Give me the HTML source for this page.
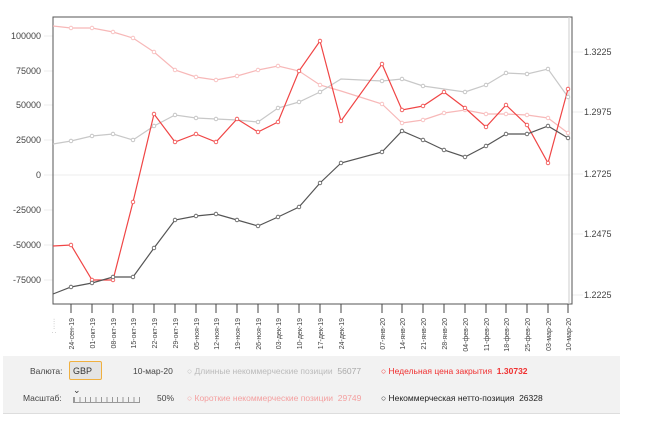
<!DOCTYPE html>
<html><head><meta charset="utf-8"><style>
body{margin:0;background:#fff;width:650px;height:427px;overflow:hidden;font-family:"Liberation Sans",sans-serif;}
.p{position:absolute;font-size:8.5px;white-space:nowrap;line-height:10px}
</style></head><body>
<svg width="650" height="427" style="position:absolute;left:0;top:0" font-family="Liberation Sans, sans-serif">
<g stroke="#eee" stroke-width="1">
<line x1="44" y1="36" x2="53" y2="36"/><line x1="44" y1="71" x2="53" y2="71"/><line x1="44" y1="105" x2="53" y2="105"/><line x1="44" y1="140" x2="53" y2="140"/><line x1="44" y1="210" x2="53" y2="210"/><line x1="44" y1="245" x2="53" y2="245"/><line x1="44" y1="280" x2="53" y2="280"/>
<line x1="44" y1="175" x2="570" y2="175"/>
<line x1="572" y1="52" x2="583" y2="52"/><line x1="572" y1="112" x2="583" y2="112"/><line x1="572" y1="174" x2="583" y2="174"/><line x1="572" y1="234" x2="583" y2="234"/><line x1="572" y1="295" x2="583" y2="295"/>
</g>
<g font-size="9" fill="#444" text-anchor="end">
<text x="41" y="39">100000</text><text x="41" y="74">75000</text><text x="41" y="108">50000</text><text x="41" y="143">25000</text><text x="41" y="178">0</text><text x="41" y="213">-25000</text><text x="41" y="248">-50000</text><text x="41" y="283">-75000</text>
</g>
<g font-size="9" fill="#444">
<text x="584" y="55">1.3225</text><text x="584" y="115">1.2975</text><text x="584" y="177">1.2725</text><text x="584" y="237">1.2475</text><text x="584" y="298">1.2225</text>
</g>
<path d="M53 17H572V304H53Z" fill="none" stroke="#555" stroke-width="1"/>
<line x1="569" y1="17" x2="569" y2="304" stroke="#ccc"/>
<g stroke="#444" stroke-width="1">
<line x1="71" y1="304" x2="71" y2="313"/><line x1="92" y1="304" x2="92" y2="313"/><line x1="113" y1="304" x2="113" y2="313"/><line x1="133" y1="304" x2="133" y2="313"/><line x1="154" y1="304" x2="154" y2="313"/><line x1="175" y1="304" x2="175" y2="313"/><line x1="196" y1="304" x2="196" y2="313"/><line x1="216" y1="304" x2="216" y2="313"/><line x1="237" y1="304" x2="237" y2="313"/><line x1="258" y1="304" x2="258" y2="313"/><line x1="278" y1="304" x2="278" y2="313"/><line x1="299" y1="304" x2="299" y2="313"/><line x1="320" y1="304" x2="320" y2="313"/><line x1="341" y1="304" x2="341" y2="313"/><line x1="382" y1="304" x2="382" y2="313"/><line x1="402" y1="304" x2="402" y2="313"/><line x1="423" y1="304" x2="423" y2="313"/><line x1="444" y1="304" x2="444" y2="313"/><line x1="465" y1="304" x2="465" y2="313"/><line x1="486" y1="304" x2="486" y2="313"/><line x1="506" y1="304" x2="506" y2="313"/><line x1="527" y1="304" x2="527" y2="313"/><line x1="548" y1="304" x2="548" y2="313"/><line x1="568" y1="304" x2="568" y2="313"/>
</g>
<g font-size="7" fill="#444" text-anchor="end">
<text transform="translate(56,318) rotate(-90)" fill="#aaa">: ·····</text>
<text transform="translate(74,318) rotate(-90)">24-сен-19</text>
<text transform="translate(95,318) rotate(-90)">01-окт-19</text>
<text transform="translate(116,318) rotate(-90)">08-окт-19</text>
<text transform="translate(136,318) rotate(-90)">15-окт-19</text>
<text transform="translate(157,318) rotate(-90)">22-окт-19</text>
<text transform="translate(178,318) rotate(-90)">29-окт-19</text>
<text transform="translate(199,318) rotate(-90)">05-ноя-19</text>
<text transform="translate(219,318) rotate(-90)">12-ноя-19</text>
<text transform="translate(240,318) rotate(-90)">19-ноя-19</text>
<text transform="translate(261,318) rotate(-90)">26-ноя-19</text>
<text transform="translate(281,318) rotate(-90)">03-дек-19</text>
<text transform="translate(302,318) rotate(-90)">10-дек-19</text>
<text transform="translate(323,318) rotate(-90)">17-дек-19</text>
<text transform="translate(344,318) rotate(-90)">24-дек-19</text>
<text transform="translate(385,318) rotate(-90)">07-янв-20</text>
<text transform="translate(405,318) rotate(-90)">14-янв-20</text>
<text transform="translate(426,318) rotate(-90)">21-янв-20</text>
<text transform="translate(447,318) rotate(-90)">28-янв-20</text>
<text transform="translate(468,318) rotate(-90)">04-фев-20</text>
<text transform="translate(489,318) rotate(-90)">11-фев-20</text>
<text transform="translate(509,318) rotate(-90)">18-фев-20</text>
<text transform="translate(530,318) rotate(-90)">25-фев-20</text>
<text transform="translate(551,318) rotate(-90)">03-мар-20</text>
<text transform="translate(571,318) rotate(-90)">10-мар-20</text>
</g>
<g fill="#fff" stroke-width="1.2">
<polyline fill="none" stroke="#f7b8b8" points="53,26 71,28 92,28 113,32 133,38 154,52 175,70 196,77 216,80 237,76 258,70 278,66 299,71 320,85 341,91 382,104 402,123 423,120 444,113 465,110 486,114 506,114 527,115 548,118 568,133"/>
<polyline fill="none" stroke="#c8c8c8" points="53,144 71,141 92,136 113,134 133,140 154,126 175,115 196,118 216,119 237,120 258,122 278,108 299,102 320,92 341,79 382,81 402,79 423,86 444,89 465,92 486,85 506,73 527,74 548,69 568,97"/>
<polyline fill="none" stroke="#f04545" points="53,246 71,245 92,280 113,280 133,202 154,114 175,142 196,134 216,142 237,119 258,132 278,122 299,71 320,41 341,121 382,64 402,110 423,106 444,92 465,108 486,127 506,105 527,125 548,163 568,89"/>
<polyline fill="none" stroke="#555" points="53,294 71,287 92,283 113,277 133,277 154,248 175,220 196,216 216,214 237,220 258,226 278,217 299,207 320,183 341,163 382,152 402,131 423,140 444,150 465,157 486,146 506,134 527,134 548,126 568,138"/>
</g>
<g fill="#fff" stroke-width="0.8">
<g stroke="#f7b8b8"><circle cx="71" cy="28" r="1.8"/><circle cx="92" cy="28" r="1.8"/><circle cx="113" cy="32" r="1.8"/><circle cx="133" cy="38" r="1.8"/><circle cx="154" cy="52" r="1.8"/><circle cx="175" cy="70" r="1.8"/><circle cx="196" cy="77" r="1.8"/><circle cx="216" cy="80" r="1.8"/><circle cx="237" cy="76" r="1.8"/><circle cx="258" cy="70" r="1.8"/><circle cx="278" cy="66" r="1.8"/><circle cx="299" cy="71" r="1.8"/><circle cx="320" cy="85" r="1.8"/><circle cx="382" cy="104" r="1.8"/><circle cx="402" cy="123" r="1.8"/><circle cx="423" cy="120" r="1.8"/><circle cx="444" cy="113" r="1.8"/><circle cx="465" cy="110" r="1.8"/><circle cx="486" cy="114" r="1.8"/><circle cx="506" cy="114" r="1.8"/><circle cx="527" cy="115" r="1.8"/><circle cx="548" cy="118" r="1.8"/><circle cx="568" cy="133" r="1.8"/></g>
<g stroke="#bbb"><circle cx="71" cy="141" r="1.8"/><circle cx="92" cy="136" r="1.8"/><circle cx="113" cy="134" r="1.8"/><circle cx="133" cy="140" r="1.8"/><circle cx="154" cy="126" r="1.8"/><circle cx="175" cy="115" r="1.8"/><circle cx="196" cy="118" r="1.8"/><circle cx="216" cy="119" r="1.8"/><circle cx="258" cy="122" r="1.8"/><circle cx="278" cy="108" r="1.8"/><circle cx="299" cy="102" r="1.8"/><circle cx="320" cy="92" r="1.8"/><circle cx="382" cy="81" r="1.8"/><circle cx="402" cy="79" r="1.8"/><circle cx="423" cy="86" r="1.8"/><circle cx="465" cy="92" r="1.8"/><circle cx="486" cy="85" r="1.8"/><circle cx="506" cy="73" r="1.8"/><circle cx="527" cy="74" r="1.8"/><circle cx="548" cy="69" r="1.8"/><circle cx="568" cy="97" r="1.8"/></g>
<g stroke="#f04545"><circle cx="71" cy="245" r="1.8"/><circle cx="92" cy="280" r="1.8"/><circle cx="113" cy="280" r="1.8"/><circle cx="133" cy="202" r="1.8"/><circle cx="154" cy="114" r="1.8"/><circle cx="175" cy="142" r="1.8"/><circle cx="196" cy="134" r="1.8"/><circle cx="216" cy="142" r="1.8"/><circle cx="237" cy="119" r="1.8"/><circle cx="258" cy="132" r="1.8"/><circle cx="278" cy="122" r="1.8"/><circle cx="299" cy="71" r="1.8"/><circle cx="320" cy="41" r="1.8"/><circle cx="341" cy="121" r="1.8"/><circle cx="382" cy="64" r="1.8"/><circle cx="402" cy="110" r="1.8"/><circle cx="423" cy="106" r="1.8"/><circle cx="444" cy="92" r="1.8"/><circle cx="465" cy="108" r="1.8"/><circle cx="486" cy="127" r="1.8"/><circle cx="506" cy="105" r="1.8"/><circle cx="527" cy="125" r="1.8"/><circle cx="548" cy="163" r="1.8"/><circle cx="568" cy="89" r="1.8"/></g>
<g stroke="#555"><circle cx="71" cy="287" r="1.8"/><circle cx="92" cy="283" r="1.8"/><circle cx="113" cy="277" r="1.8"/><circle cx="133" cy="277" r="1.8"/><circle cx="154" cy="248" r="1.8"/><circle cx="175" cy="220" r="1.8"/><circle cx="196" cy="216" r="1.8"/><circle cx="216" cy="214" r="1.8"/><circle cx="237" cy="220" r="1.8"/><circle cx="258" cy="226" r="1.8"/><circle cx="278" cy="217" r="1.8"/><circle cx="299" cy="207" r="1.8"/><circle cx="320" cy="183" r="1.8"/><circle cx="341" cy="163" r="1.8"/><circle cx="382" cy="152" r="1.8"/><circle cx="402" cy="131" r="1.8"/><circle cx="423" cy="140" r="1.8"/><circle cx="444" cy="150" r="1.8"/><circle cx="465" cy="157" r="1.8"/><circle cx="486" cy="146" r="1.8"/><circle cx="506" cy="134" r="1.8"/><circle cx="527" cy="134" r="1.8"/><circle cx="548" cy="126" r="1.8"/><circle cx="568" cy="138" r="1.8"/></g>
</g>
</svg>
<div style="position:absolute;left:3px;top:356px;width:617px;height:57px;background:#f2f2f2;border-bottom:1px solid #ddd"></div>
<div class="p" style="left:30px;top:366px;color:#444">Валюта:</div>
<div style="position:absolute;left:69px;top:361px;width:33px;height:19px;border:1px solid #f0b040;border-radius:2px;background:#e4e4e4;font-size:9px;line-height:19px;color:#333;padding-left:3px;box-sizing:border-box">GBP ⌄</div>
<div class="p" style="left:133px;top:366px;color:#444">10-мар-20</div>
<div class="p" style="left:187px;top:366px;color:#bbb">○ Длинные некоммерческие позиции&nbsp; <b style="font-weight:normal;color:#aaa">56077</b></div>
<div class="p" style="left:381px;top:366px;color:#f03030">○ Недельная цена закрытия&nbsp; <b>1.30732</b></div>
<div class="p" style="left:23px;top:393px;color:#444">Масштаб:</div>
<div style="position:absolute;left:73px;top:397px;width:65px;height:5px;border:1px solid #999;border-top:none;background:repeating-linear-gradient(90deg,#999 0 1px,transparent 1px 5.4px)"></div>
<div class="p" style="left:157px;top:393px;color:#444">50%</div>
<div class="p" style="left:187px;top:393px;color:#f4a0a0">○ Короткие некоммерческие позиции&nbsp; 29749</div>
<div class="p" style="left:381px;top:393px;color:#222">○ Некоммерческая нетто-позиция&nbsp; 26328</div>
</body></html>
